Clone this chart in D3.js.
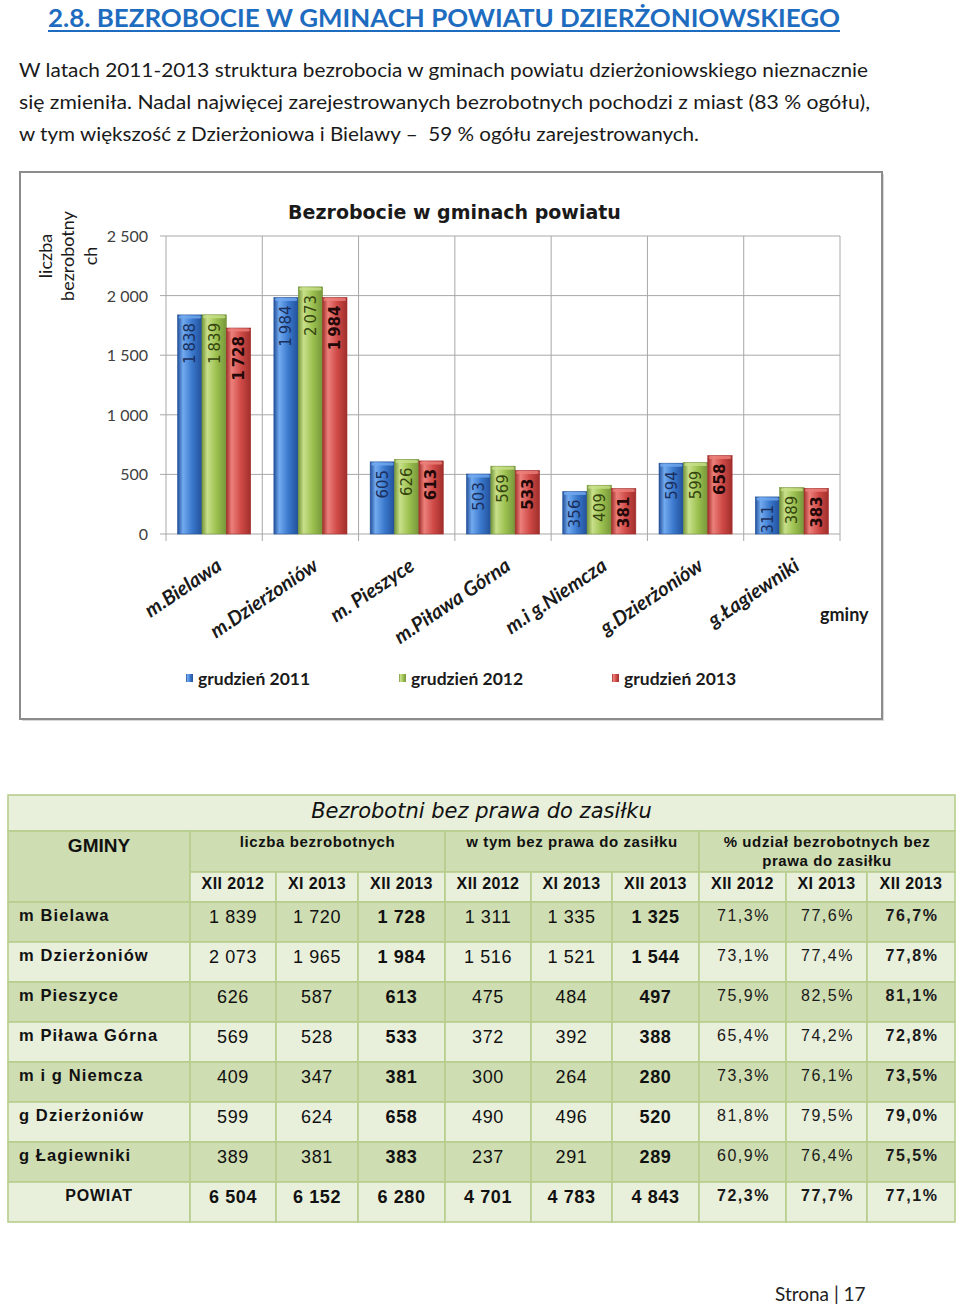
<!DOCTYPE html>
<html>
<head>
<meta charset="utf-8">
<script src="https://cdn.jsdelivr.net/npm/d3@7"></script>
<style>
body { margin: 0; background: #fff; }
</style>
</head>
<body>
<script>
// ---- chart data ----
const gminy = ["m.Bielawa", "m.Dzierżoniów", "m. Pieszyce", "m.Piława Górna", "m.i g.Niemcza", "g.Dzierżoniów", "g.Łagiewniki"];
const seriesNames = ["grudzień 2011", "grudzień 2012", "grudzień 2013"];
const dec2011 = [1838, 1984, 605, 503, 356, 594, 311];
const dec2012 = [1839, 2073, 626, 569, 409, 599, 389];
const dec2013 = [1728, 1984, 613, 533, 381, 658, 383];
const yTicks = [0, 500, 1000, 1500, 2000, 2500];

// ---- table data ----
const tableTitle = "Bezrobotni bez prawa do zasiłku";
const groupHeads = [["liczba bezrobotnych"], ["w tym bez prawa do zasiłku"], ["% udział bezrobotnych bez", "prawa do zasiłku"]];
const periods = ["XII 2012", "XI 2013", "XII 2013"];
const rowNames = ["m Bielawa", "m Dzierżoniów", "m Pieszyce", "m Piława Górna", "m i g Niemcza", "g Dzierżoniów", "g Łagiewniki", "POWIAT"];
const liczba = [[1839, 1720, 1728], [2073, 1965, 1984], [626, 587, 613], [569, 528, 533], [409, 347, 381], [599, 624, 658], [389, 381, 383], [6504, 6152, 6280]];
const bezPrawa = [[1311, 1335, 1325], [1516, 1521, 1544], [475, 484, 497], [372, 392, 388], [300, 264, 280], [490, 496, 520], [237, 291, 289], [4701, 4783, 4843]];
const udzial = [[71.3, 77.6, 76.7], [73.1, 77.4, 77.8], [75.9, 82.5, 81.1], [65.4, 74.2, 72.8], [73.3, 76.1, 73.5], [81.8, 79.5, 79.0], [60.9, 76.4, 75.5], [72.3, 77.7, 77.1]];

const heading = "2.8. BEZROBOCIE W GMINACH POWIATU DZIERŻONIOWSKIEGO";
const paragraph = [
  "W latach 2011-2013 struktura bezrobocia w gminach powiatu dzierżoniowskiego nieznacznie",
  "się zmieniła. Nadal najwięcej zarejestrowanych bezrobotnych pochodzi z miast (83 % ogółu),",
  "w tym większość z Dzierżoniowa i Bielawy \u2013  59 % ogółu zarejestrowanych."
];

const W = 960, H = 1309;
const pl = d3.formatLocale({decimal: ",", thousands: " ", grouping: [3], currency: ["", ""]});
const plThin = d3.formatLocale({decimal: ",", thousands: "\u2009", grouping: [3], currency: ["", ""]});
const fmtInt = pl.format(",d");
const fmtBar = plThin.format(",d");
const fmtPct = v => pl.format(".1f")(v) + "%";

const svg = d3.select("body").append("svg")
  .attr("width", W)
  .attr("height", H);

// ---- page heading and text ----
svg.append("text")
  .attr("x", 48).attr("y", 27)
  .attr("font-family", "Lato").attr("font-weight", "bold").attr("font-size", 25)
  .attr("fill", "#1e6cc0")
  .attr("textLength", 792).attr("lengthAdjust", "spacingAndGlyphs")
  .text(heading);
svg.append("rect").attr("x", 48).attr("y", 30).attr("width", 792).attr("height", 2).attr("fill", "#1e6cc0");

const paraWidths = [849, 851, 680];
svg.selectAll(".para").data(paragraph).enter().append("text")
  .attr("x", 19)
  .attr("y", (d, i) => 77 + i * 32)
  .attr("font-family", "Lato").attr("font-size", 19.5).attr("fill", "#1a1a1a")
  .attr("textLength", (d, i) => paraWidths[i]).attr("lengthAdjust", "spacingAndGlyphs")
  .style("white-space", "pre")
  .text(d => d);

// ---- chart frame ----
svg.append("rect").attr("x", 22).attr("y", 174).attr("width", 862).attr("height", 547).attr("fill", "#d8d8d8");
svg.append("rect").attr("x", 20).attr("y", 172).attr("width", 862).attr("height", 547)
  .attr("fill", "#fff").attr("stroke", "#8c8c8c").attr("stroke-width", 2);

const x0 = d3.scaleBand().domain(gminy).range([166, 840]);
const x1 = d3.scaleBand().domain(seriesNames).range([11.6, 84.7]);
const y = d3.scaleLinear().domain([0, 2500]).range([534, 236]);
const seriesVals = [dec2011, dec2012, dec2013];

// gradients
const pal = [
  {dark: "#22509a", base: "#3a78cc", light: "#72aaf0", text: "#1b2f5c", weight: "normal"},
  {dark: "#76963a", base: "#9cc04f", light: "#c8e08a", text: "#364510", weight: "normal"},
  {dark: "#a02e2b", base: "#cf4a47", light: "#ec807b", text: "#220808", weight: "bold"}
];
const defs = svg.append("defs");
pal.forEach((p, i) => {
  const g = defs.append("linearGradient").attr("id", "bar" + i).attr("x1", "0%").attr("x2", "100%");
  g.append("stop").attr("offset", "0%").attr("stop-color", p.dark);
  g.append("stop").attr("offset", "22%").attr("stop-color", p.light);
  g.append("stop").attr("offset", "60%").attr("stop-color", p.base);
  g.append("stop").attr("offset", "100%").attr("stop-color", p.dark);
});

// grid
svg.selectAll(".hgrid").data(yTicks).enter().append("line")
  .attr("x1", 160).attr("x2", 840)
  .attr("y1", d => y(d)).attr("y2", d => y(d))
  .attr("stroke", "#a8a8a8").attr("stroke-width", 1);
const bounds = gminy.map(g => x0(g)).concat([x0.range()[1]]);
svg.selectAll(".vgrid").data(bounds).enter().append("line")
  .attr("x1", d => d).attr("x2", d => d)
  .attr("y1", y(2500)).attr("y2", y(0) + 7)
  .attr("stroke", "#a8a8a8").attr("stroke-width", 1);

svg.selectAll(".ytick").data(yTicks).enter().append("text")
  .attr("x", 148).attr("y", d => y(d) + 6)
  .attr("text-anchor", "end")
  .attr("font-family", "Lato").attr("font-size", 16).attr("fill", "#404040")
  .text(d => fmtInt(d));

// bars
const groups = svg.selectAll(".grp").data(gminy).enter().append("g")
  .attr("transform", d => `translate(${x0(d)},0)`);
seriesNames.forEach((s, si) => {
  groups.append("rect")
    .attr("x", x1(s)).attr("width", x1.bandwidth())
    .attr("y", (d, gi) => y(seriesVals[si][gi]))
    .attr("height", (d, gi) => y(0) - y(seriesVals[si][gi]))
    .attr("fill", `url(#bar${si})`)
    .attr("stroke", pal[si].dark).attr("stroke-width", 0.6);
  groups.append("rect")
    .attr("x", x1(s) + 1).attr("width", x1.bandwidth() - 2)
    .attr("y", (d, gi) => y(seriesVals[si][gi]) + 0.5)
    .attr("height", 3).attr("rx", 1.5)
    .attr("fill", pal[si].light).attr("opacity", 0.8);
  groups.append("text")
    .attr("transform", (d, gi) => `translate(${x1(s) + x1.bandwidth() / 2},${y(seriesVals[si][gi]) + 8}) rotate(-90)`)
    .attr("text-anchor", "end").attr("dy", "0.36em")
    .attr("font-family", "DejaVu Sans").attr("font-size", 15)
    .attr("font-weight", pal[si].weight).attr("fill", pal[si].text)
    .text((d, gi) => fmtBar(seriesVals[si][gi]));
});

// chart title and axis titles
svg.append("text").attr("x", 454.5).attr("y", 219).attr("text-anchor", "middle")
  .attr("font-family", "DejaVu Sans").attr("font-weight", "bold").attr("font-size", 19)
  .attr("fill", "#1a1a1a").text("Bezrobocie w gminach powiatu");

const yTitle = ["liczba", "bezrobotny", "ch"];
svg.selectAll(".ytitle").data(yTitle).enter().append("text")
  .attr("transform", (d, i) => `translate(${51.5 + i * 22.7},256) rotate(-90)`)
  .attr("text-anchor", "middle")
  .attr("font-family", "Lato").attr("font-size", 18).attr("fill", "#1a1a1a")
  .text(d => d);

svg.selectAll(".xlab").data(gminy).enter().append("text")
  .attr("transform", d => `translate(${x0(d) + x0.bandwidth() / 2 + 9},569) rotate(-34)`)
  .attr("text-anchor", "end")
  .attr("font-family", "Lato").attr("font-weight", "bold").attr("font-style", "italic").attr("font-size", 20)
  .attr("fill", "#1a1a1a")
  .text(d => d);

svg.append("text").attr("x", 820).attr("y", 621)
  .attr("font-family", "Lato").attr("font-weight", "bold").attr("font-size", 18).attr("fill", "#1a1a1a")
  .text("gminy");

// legend
const leg = svg.selectAll(".leg").data(seriesNames).enter().append("g")
  .attr("transform", (d, i) => `translate(${186 + i * 213},0)`);
leg.append("rect").attr("x", 0).attr("y", 674).attr("width", 7).attr("height", 8)
  .attr("fill", (d, i) => `url(#bar${i})`);
leg.append("text").attr("x", 12).attr("y", 685)
  .attr("font-family", "Lato").attr("font-weight", "bold").attr("font-size", 17.5).attr("fill", "#1a1a1a")
  .text(d => d);

// ---- table ----
const colEdges = [8, 190, 276, 358, 445, 531, 612, 699, 786, 867, 955];
const dark = "#cfddb3", light = "#e8efdb", border = "#b7ce8d";
const tbl = svg.append("g");
const cell = (x0c, y0c, x1c, y1c, fill) => tbl.append("rect")
  .attr("x", x0c).attr("y", y0c).attr("width", x1c - x0c).attr("height", y1c - y0c)
  .attr("fill", fill).attr("stroke", border).attr("stroke-width", 1.6);
const txt = (x, yy, s, opts) => tbl.append("text")
  .attr("x", x).attr("y", yy).attr("text-anchor", opts.anchor || "middle")
  .attr("font-family", opts.family || "Liberation Sans").attr("font-size", opts.size)
  .attr("font-weight", opts.weight || "normal").attr("font-style", opts.style || "normal")
  .attr("letter-spacing", opts.ls || 0).attr("fill", opts.fill || "#111")
  .text(s);

cell(8, 795, 955, 831, light);
txt(481.5, 818, tableTitle, {family: "DejaVu Sans", size: 21, style: "italic"});

cell(8, 831, 190, 902, dark);
txt(99, 852, "GMINY", {size: 19, weight: "bold"});
groupHeads.forEach((gh, gi) => {
  const a = colEdges[1 + gi * 3], b = colEdges[4 + gi * 3];
  cell(a, 831, b, 872, dark);
  gh.forEach((line, li) => txt((a + b) / 2, 847 + li * 19, line, {size: 15, weight: "bold", ls: 0.6}));
});
for (let c = 0; c < 9; c++) {
  cell(colEdges[c + 1], 872, colEdges[c + 2], 902, light);
  txt((colEdges[c + 1] + colEdges[c + 2]) / 2, 889, periods[c % 3], {size: 16, weight: "bold", ls: 0.4});
}

const yRow = d3.scaleBand().domain(rowNames).range([902, 1222]);
rowNames.forEach((rn, ri) => {
  const top = yRow(rn), bot = top + yRow.bandwidth();
  const fill = ri % 2 === 0 ? dark : light;
  const isTotal = ri === rowNames.length - 1;
  for (let c = 0; c < 10; c++) cell(colEdges[c], top, colEdges[c + 1], bot, fill);
  if (isTotal) txt(99, top + 19, rn, {size: 16, weight: "bold", ls: 0.8});
  else txt(19, top + 19, rn, {size: 16.5, weight: "bold", ls: 1.1, anchor: "start"});
  const rowVals = [liczba[ri], bezPrawa[ri]];
  rowVals.forEach((vals, gi) => vals.forEach((v, pi) => {
    const c = 1 + gi * 3 + pi;
    txt((colEdges[c] + colEdges[c + 1]) / 2, top + 21, fmtInt(v),
      {size: 18, weight: (pi === 2 || isTotal) ? "bold" : "normal", ls: 0.6});
  }));
  udzial[ri].forEach((v, pi) => {
    const c = 7 + pi;
    txt((colEdges[c] + colEdges[c + 1]) / 2 + 1, top + 19, fmtPct(v),
      {size: 16, weight: (pi === 2 || isTotal) ? "bold" : "normal", ls: 1.5, fill: "#1a1a1a"});
  });
});

// footer
svg.append("text").attr("x", 775).attr("y", 1301)
  .attr("font-family", "Lato").attr("font-size", 19).attr("fill", "#222")
  .text("Strona | 17");
</script>
</body>
</html>
